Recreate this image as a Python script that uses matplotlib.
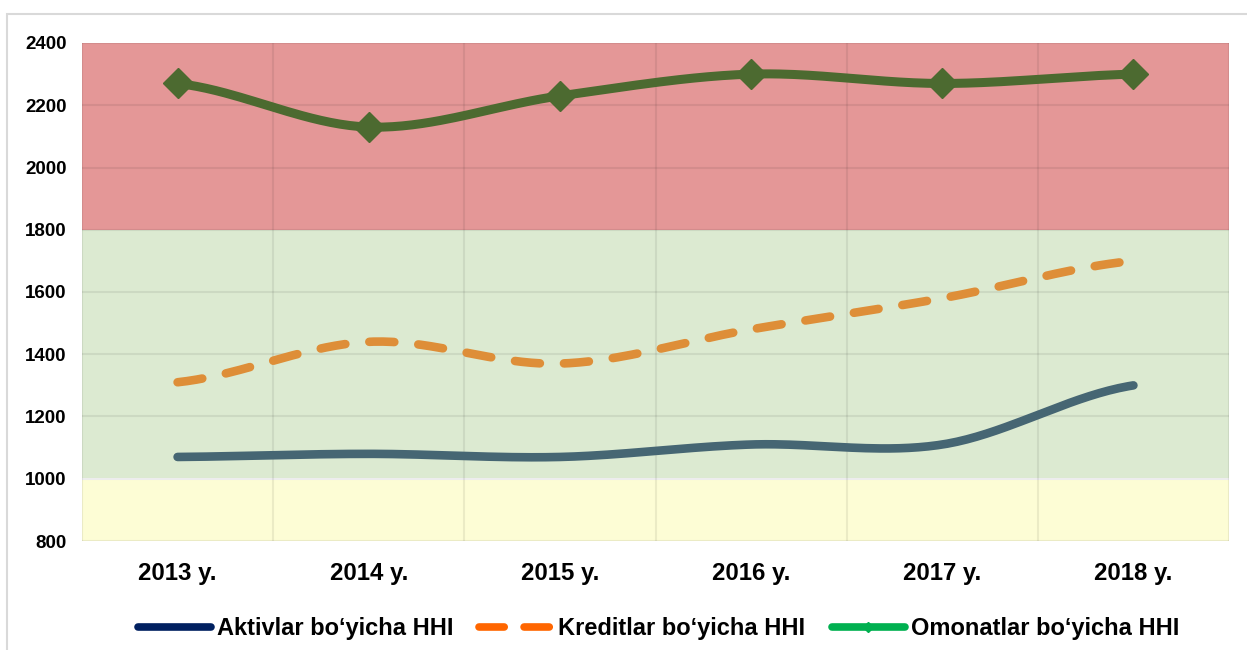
import numpy as np
import matplotlib
matplotlib.use("Agg")
import matplotlib.pyplot as plt
from matplotlib.lines import Line2D
from matplotlib.patches import Rectangle

years = ["2013 y.", "2014 y.", "2015 y.", "2016 y.", "2017 y.", "2018 y."]
aktivlar = [1070, 1080, 1070, 1110, 1110, 1300]
kreditlar = [1310, 1440, 1370, 1480, 1580, 1700]
omonatlar = [2270, 2130, 2230, 2300, 2270, 2300]
labels = ["Aktivlar bo\u2018yicha HHI", "Kreditlar bo\u2018yicha HHI", "Omonatlar bo\u2018yicha HHI"]
yticks = [800, 1000, 1200, 1400, 1600, 1800, 2000, 2200, 2400]

plt.rcParams['font.family'] = ['Liberation Sans', 'DejaVu Sans']
plt.rcParams['font.weight'] = 'bold'


def smooth(y, n=40):
    """Catmull-Rom style smoothing (like Excel smoothed lines)."""
    x = np.arange(len(y), dtype=float)
    y = np.asarray(y, dtype=float)
    px = np.concatenate([[2 * x[0] - x[1]], x, [2 * x[-1] - x[-2]]])
    py = np.concatenate([[y[0]], y, [y[-1]]])
    xs, ys = [], []
    for i in range(1, len(px) - 2):
        t = np.linspace(0, 1, n, endpoint=(i == len(px) - 3))
        for arr, out in ((px, xs), (py, ys)):
            p0, p1, p2, p3 = arr[i - 1], arr[i], arr[i + 1], arr[i + 2]
            m1 = (p2 - p0) / 2
            m2 = (p3 - p1) / 2
            h00 = 2 * t**3 - 3 * t**2 + 1
            h10 = t**3 - 2 * t**2 + t
            h01 = -2 * t**3 + 3 * t**2
            h11 = t**3 - t**2
            out.append(h00 * p1 + h10 * m1 + h01 * p2 + h11 * m2)
    return np.concatenate(xs), np.concatenate(ys)


fig = plt.figure(figsize=(12.47, 6.5), dpi=100)
ax = fig.add_axes([82 / 1247, 109 / 650, (1229 - 82) / 1247, (541 - 43) / 650])

# outer frame
fig.patches.append(Rectangle((7 / 1247, -0.1), 1.2, (650 - 14) / 650 + 0.1,
                             transform=fig.transFigure, fill=False,
                             edgecolor='#D9D9D9', lw=1.5, zorder=0))

ax.axhspan(800, 1000, color='#FDFDD5', zorder=0, lw=0)
ax.axhspan(1000, 1800, color='#DCEAD1', zorder=0, lw=0)
ax.axhspan(1800, 2400, color='#E49797', zorder=0, lw=0)
ax.axhline(1000, color='white', lw=1.5, zorder=1)

ax.set_xlim(-0.5, 5.5)
ax.set_ylim(800, 2400)
ax.set_yticks(yticks)
ax.set_xticks(range(len(years)))
ax.set_xticklabels(years, fontsize=17.3, fontweight='bold')
ax.set_yticklabels([str(v) for v in yticks], fontsize=13.5, fontweight='bold')
ax.set_xticks(np.arange(-0.5, 6, 1), minor=True)
ax.tick_params(which='both', length=0)
ax.tick_params(axis='x', pad=15)
ax.tick_params(axis='y', pad=11)
ax.grid(True, axis='y', which='major', color='black', alpha=0.07, lw=1.5, zorder=1)
ax.grid(True, axis='x', which='minor', color='black', alpha=0.07, lw=1.5, zorder=1)
for s in ax.spines.values():
    s.set_visible(False)

x = np.arange(len(years))
sx, sy = smooth(aktivlar)
ax.plot(sx, sy, color='#466673', lw=6.2, solid_capstyle='round', zorder=3)
sx, sy = smooth(kreditlar)
ax.plot(sx, sy, color='#DE8E38', lw=6.2, dashes=(2.9, 2.8), dash_capstyle='round', zorder=3)
sx, sy = smooth(omonatlar)
ax.plot(sx, sy, color='#4C6A30', lw=6.5, solid_capstyle='round', zorder=3)
ax.plot(x, omonatlar, linestyle='none', marker='D', ms=15, color='#4C6A30', zorder=4)

handles = [
    Line2D([], [], color='#002060', lw=5.5, solid_capstyle='round'),
    Line2D([], [], color='#FF6600', lw=5.5, dashes=(3.3, 2.6), dash_capstyle='round'),
    Line2D([], [], color='#00B050', lw=5.5, solid_capstyle='round', marker='D', ms=5),
]
fig.legend(handles, labels, loc='center', bbox_to_anchor=(0.528, 21 / 650),
           ncol=3, frameon=False, handlelength=3.1, handletextpad=0.25,
           columnspacing=1.1, prop={'weight': 'bold', 'size': 17})

fig.savefig('out.png', dpi=100)
